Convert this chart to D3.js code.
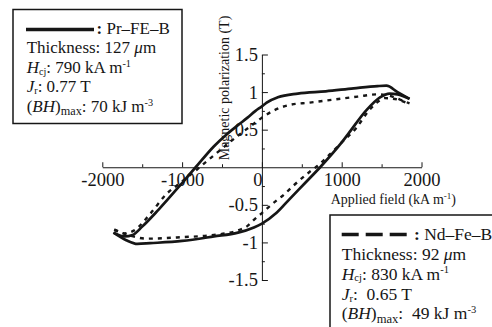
<!DOCTYPE html>
<html><head><meta charset="utf-8">
<script src="https://cdn.jsdelivr.net/npm/d3@7"></script>
<style>
html,body{margin:0;padding:0;background:#fff;}
svg{display:block;font-family:"Liberation Serif","Times New Roman",serif;}
svg text{white-space:pre;}
</style>
</head><body>
<svg id="chart" width="492" height="327"></svg>
<script>
// Hysteresis loops: applied field H (kA/m) vs magnetic polarization J (T)

// Pr–Fe–B loop (solid line), descending (upper) branch
const prUpperH = [-1860, -1720, -1620, -1500, -1300, -1000, -830, -600, -450, -300, -180, -80, 0, 60, 200, 450, 800, 1150, 1450, 1560, 1700, 1850];
const prUpperJ = [-0.87, -0.92, -0.90, -0.79, -0.57, -0.21, 0, 0.28, 0.43, 0.56, 0.66, 0.75, 0.81, 0.86, 0.93, 0.98, 1.01, 1.05, 1.08, 1.085, 1.0, 0.91];
// Pr–Fe–B loop, ascending (lower) branch
const prLowerH = [-1860, -1700, -1560, -1400, -1000, -600, -300, -100, 0, 180, 350, 550, 730, 1000, 1100, 1310, 1480, 1600, 1700, 1850];
const prLowerJ = [-0.87, -0.97, -1.02, -1.01, -0.98, -0.92, -0.87, -0.80, -0.75, -0.61, -0.42, -0.2, 0, 0.33, 0.47, 0.76, 0.93, 0.98, 0.97, 0.91];

// Nd–Fe–B loop (dashed line), descending (upper) branch
const ndUpperH = [-1850, -1720, -1600, -1400, -1200, -1000, -780, -600, -300, -150, 0, 140, 350, 600, 900, 1200, 1440, 1600, 1730, 1850];
const ndUpperJ = [-0.83, -0.88, -0.84, -0.62, -0.36, -0.19, 0, 0.16, 0.42, 0.54, 0.66, 0.75, 0.83, 0.86, 0.90, 0.94, 0.97, 0.95, 0.90, 0.85];
// Nd–Fe–B loop, ascending (lower) branch
const ndLowerH = [-1850, -1650, -1450, -1000, -600, -300, -180, -100, 0, 150, 270, 400, 600, 700, 850, 1000, 1180, 1330, 1440, 1540, 1700, 1850];
const ndLowerJ = [-0.83, -0.91, -0.95, -0.93, -0.90, -0.84, -0.78, -0.70, -0.61, -0.47, -0.37, -0.24, -0.06, 0.02, 0.17, 0.33, 0.52, 0.74, 0.86, 0.92, 0.90, 0.84];

// Axis ticks
const xTicks = [-2000, -1000, 0, 1000, 2000];
const xTickLabels = ["-2000", "-1000", "0", "1000", "2000"];
const xMinorTicks = [-1500, -500, 500, 1500];
const yTicks = [-1.5, -1, -0.5, 0.5, 1, 1.5];
const yTickLabels = ["-1.5", "-1", "-0.5", "0.5", "1", "1.5"];
const yMinorTicks = [-1.25, -0.75, -0.25, 0.25, 0.75, 1.25];

const ink = "#161616";
const svg = d3.select("#chart");

const x = d3.scaleLinear().domain([-2000, 2000]).range([102.3, 421.5]);
const y = d3.scaleLinear().domain([-1.5, 1.5]).range([280, 54.5]);

function styleAxis(g) {
  g.selectAll("path,line").attr("stroke", ink).attr("stroke-width", 1);
  g.selectAll("text").attr("fill", ink).attr("font-size", 18.5)
    .attr("font-family", "'Liberation Serif','Times New Roman',serif");
}

// x axis through J = 0, ticks pointing up, labels below
const xAxisG = svg.append("g").attr("transform", `translate(0,${y(0)})`)
  .call(d3.axisBottom(x).tickValues(xTicks).tickSizeInner(-5).tickSizeOuter(0)
    .tickPadding(5.5).tickFormat((d, i) => xTickLabels[i]))
  .call(styleAxis);
xAxisG.selectAll(".tick text").filter(d => d === 0).attr("x", -4.5);
svg.append("g").attr("transform", `translate(0,${y(0)})`)
  .call(d3.axisBottom(x).tickValues(xMinorTicks).tickSizeInner(-3).tickSizeOuter(0).tickFormat(""))
  .call(g => g.select(".domain").remove())
  .call(styleAxis);

// y axis through H = 0, ticks pointing right, labels left
svg.append("g").attr("transform", `translate(${x(0)},0)`)
  .call(d3.axisLeft(y).tickValues(yTicks).tickSizeInner(-6).tickSizeOuter(0)
    .tickPadding(4).tickFormat((d, i) => yTickLabels[i]))
  .call(styleAxis);
svg.append("g").attr("transform", `translate(${x(0)},0)`)
  .call(d3.axisLeft(y).tickValues(yMinorTicks).tickSizeInner(-3).tickSizeOuter(0).tickFormat(""))
  .call(g => g.select(".domain").remove())
  .call(styleAxis);

// Axis titles
svg.append("text")
  .attr("transform", `translate(229,88) rotate(-90)`)
  .attr("text-anchor", "middle").attr("font-size", 14).attr("fill", ink)
  .text("Magnetic polarization (T)");
const xTitle = svg.append("text").attr("x", 330.7).attr("y", 204)
  .attr("font-size", 14).attr("fill", ink);
xTitle.append("tspan").text("Applied field (kA m");
xTitle.append("tspan").attr("font-size", 9).attr("dy", -5).text("-1");
xTitle.append("tspan").attr("dy", 5).text(")");

// Loop curves
const line = d3.line().x(d => x(d[0])).y(d => y(d[1])).curve(d3.curveMonotoneX);
const loops = [
  {h: prUpperH, j: prUpperJ, dash: null, w: 2.7},
  {h: prLowerH, j: prLowerJ, dash: null, w: 2.7},
  {h: ndUpperH, j: ndUpperJ, dash: "4,5", w: 2.4},
  {h: ndLowerH, j: ndLowerJ, dash: "4,5", w: 2.4}
];
svg.append("g").selectAll("path").data(loops).join("path")
  .attr("d", d => line(d3.zip(d.h, d.j)))
  .attr("fill", "none").attr("stroke", ink)
  .attr("stroke-width", d => d.w)
  .attr("stroke-dasharray", d => d.dash)
  .attr("stroke-linejoin", "round");

// Legend boxes with material properties
function propRow(g, xPos, yPos, size, parts) {
  const t = g.append("text").attr("x", xPos).attr("y", yPos)
    .attr("font-size", size).attr("fill", ink);
  let shift = 0;
  parts.forEach(p => {
    const s = t.append("tspan").text(p.t);
    let target = 0;
    if (p.sub) { s.attr("font-size", size * (p.scale || 0.6)); target = size * (p.drop || 0.2); }
    if (p.sup) { s.attr("font-size", size * 0.6); target = -size * 0.36; }
    if (p.it) s.attr("font-style", "italic");
    if (p.b) s.attr("font-weight", "bold");
    s.attr("dy", target - shift);
    shift = target;
  });
}

function legendBox(opt) {
  const g = svg.append("g");
  g.append("rect").attr("x", opt.x).attr("y", opt.y).attr("width", opt.w).attr("height", opt.h)
    .attr("fill", "#fff").attr("stroke", ink).attr("stroke-width", 1.5);
  g.append("line").attr("x1", opt.sx1).attr("x2", opt.sx2).attr("y1", opt.sy).attr("y2", opt.sy)
    .attr("stroke", ink).attr("stroke-width", 3.4).attr("stroke-dasharray", opt.dash);
  propRow(g, opt.nameX, opt.rows[0], opt.fs, [{t: ":", b: true}, {t: " " + opt.name}]);
  propRow(g, opt.tx, opt.rows[1], opt.fs, [{t: "Thickness: " + opt.thick + " "}, {t: "\u03bc", it: true}, {t: "m"}]);
  propRow(g, opt.tx, opt.rows[2], opt.fs, [{t: "H", it: true}, {t: "cj", sub: true, drop: 0.1}, {t: ": " + opt.hcj + " kA m"}, {t: "-1", sup: true}]);
  propRow(g, opt.tx, opt.rows[3], opt.fs, [{t: "J", it: true}, {t: "r", sub: true, drop: 0.12}, {t: ":" + opt.jr + " T"}]);
  propRow(g, opt.tx, opt.rows[4], opt.fs, [{t: "(" }, {t: "BH", it: true}, {t: ")"}, {t: "max", sub: true, scale: 0.72}, {t: ":" + opt.bh + " kJ m"}, {t: "-3", sup: true}]);
}

legendBox({x: 13, y: 9.5, w: 169, h: 114, sx1: 26, sx2: 94, sy: 29.5, dash: null,
  nameX: 96.5, name: "Pr\u2013FE\u2013B", tx: 26.7, fs: 17,
  rows: [33.5, 52.7, 73.3, 92, 111.7],
  thick: "127", hcj: "790", jr: " 0.77", bh: " 70"});
legendBox({x: 330, y: 215, w: 175, h: 125, sx1: 341.7, sx2: 406.7, sy: 234.5, dash: "17,7",
  nameX: 414, name: "Nd\u2013Fe\u2013B", tx: 341.7, fs: 17.5,
  rows: [239.5, 260, 279.5, 299.5, 319],
  thick: "92", hcj: "830", jr: "  0.65", bh: "  49"});
</script>
</body></html>
